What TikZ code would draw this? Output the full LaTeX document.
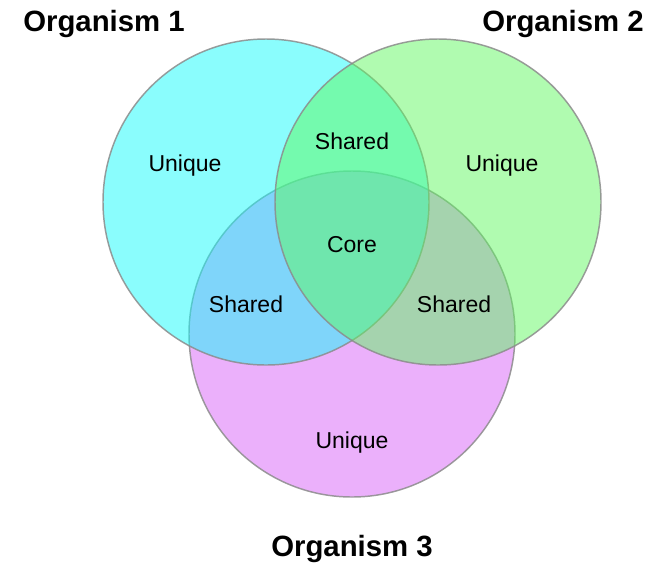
\documentclass[tikz,border=0pt]{standalone}
\usepackage{fontspec}
\setmainfont{Liberation Sans}
\definecolor{cOne}{RGB}{21,251,251}
\definecolor{cTwo}{RGB}{97,247,97}
\definecolor{cThree}{RGB}{215,97,247}
\definecolor{edge}{RGB}{140,140,140}
\tikzset{
  venn/.style={draw=edge, line width=1.1pt, fill opacity=0.5, draw opacity=0.85},
  title/.style={font=\bfseries\fontsize{22}{26}\selectfont, anchor=base, inner sep=0pt},
  lbl/.style={font=\fontsize{17.25}{20}\selectfont, anchor=base, inner sep=0pt}
}
\begin{document}
\begin{tikzpicture}[x=0.75pt,y=-0.75pt]
\useasboundingbox (0,0) rectangle (656,565);
% circles: draw order 3, 1, 2
\path[venn, fill=cThree] (352,334) circle [radius=122.25pt];
\path[venn, fill=cOne] (266,202) circle [radius=122.25pt];
\path[venn, fill=cTwo] (438,202) circle [radius=122.25pt];
% titles
\node[title] (t1) at (104,31) {Organism 1};
\node[title] (t2) at (563,31) {Organism 2};
\node[title] (t3) at (352,556) {Organism 3};
% region labels
\node[lbl] (u1) at (185,171) {Unique};
\node[lbl] (u2) at (502,171) {Unique};
\node[lbl] (u3) at (352,448) {Unique};
\node[lbl] (s12) at (352,149) {Shared};
\node[lbl] (s13) at (246,312) {Shared};
\node[lbl] (s23) at (454,312) {Shared};
\node[lbl] (core) at (352,252) {Core};
\end{tikzpicture}
\end{document}
